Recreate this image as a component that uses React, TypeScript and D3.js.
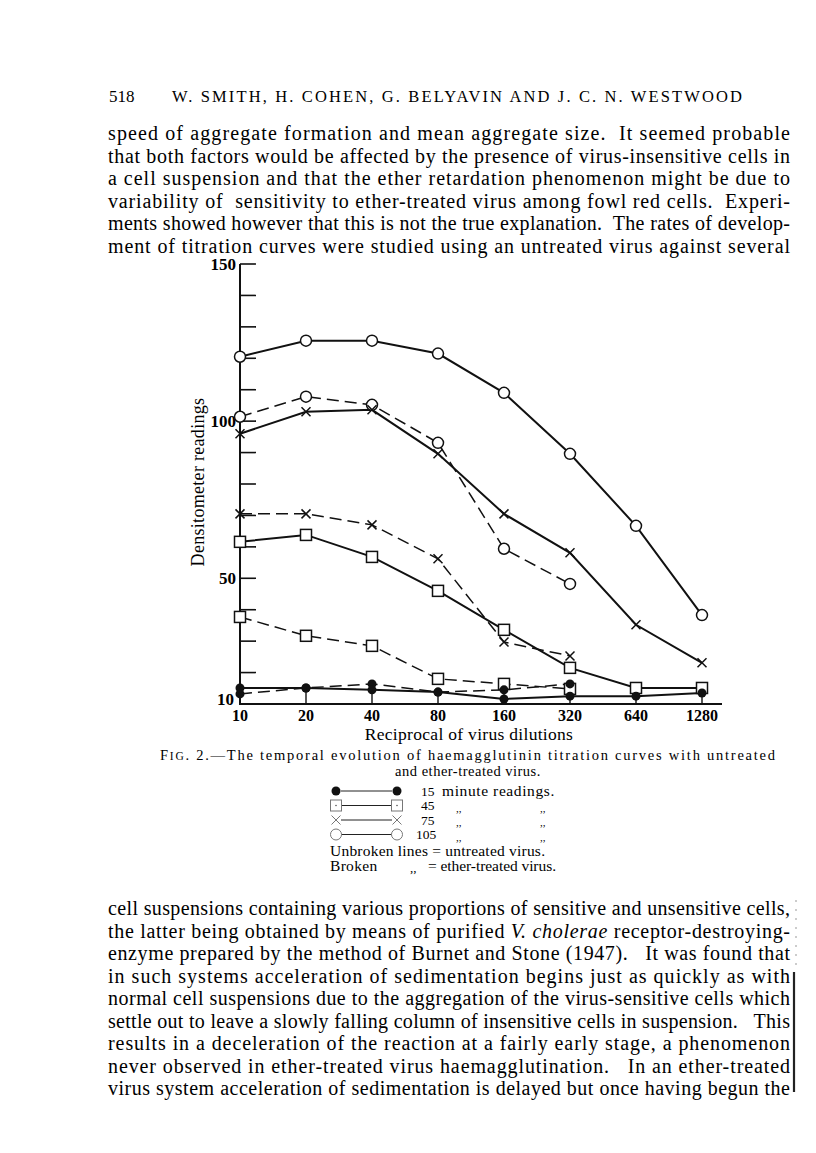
import React, { useEffect, useRef } from "react";
import * as d3 from "d3";

// Values (densitometer readings)
const dilutions = [10, 20, 40, 80, 160, 320, 640, 1280];
const yTickValues = d3.range(10, 151, 10);
const yTickLabels = [10, 50, 100, 150];

const solid15 = [15.1, 15.1, 14.5, 13.8, 11.6, 12.5, 12.5, 13.5];
const broken15 = [13.2, 15.1, 16.4, 13.8, 14.5, 16.4];
const solid45 = [61.6, 63.8, 56.8, 46, 33.6, 21.5, 15.1, 15.1];
const broken45 = [37.7, 31.7, 28.5, 18, 16.4, 14.8];
const solid75 = [96, 103, 103.6, 89.6, 70.5, 58.1, 35.2, 23.1];
const broken75 = [70.5, 70.5, 67, 56.2, 29.7, 25.3];
const solid105 = [120.5, 125.6, 125.6, 121.5, 109, 89.6, 66.7, 38.3];
const broken105 = [101.4, 107.8, 105.2, 93.1, 59.4, 48.2];

const headerNum = "518";
const headerText = "W. SMITH, H. COHEN, G. BELYAVIN AND J. C. N. WESTWOOD";

const topLines = [
  "speed of aggregate formation and mean aggregate size.  It seemed probable",
  "that both factors would be affected by the presence of virus-insensitive cells in",
  "a cell suspension and that the ether retardation phenomenon might be due to",
  "variability of  sensitivity to ether-treated virus among fowl red cells.  Experi-",
  "ments showed however that this is not the true explanation.  The rates of develop-",
  "ment of titration curves were studied using an untreated virus against several",
];

const bottomLines = [
  "cell suspensions containing various proportions of sensitive and unsensitive cells,",
  "the latter being obtained by means of purified |V. cholerae| receptor-destroying-",
  "enzyme prepared by the method of Burnet and Stone (1947).   It was found that",
  "in such systems acceleration of sedimentation begins just as quickly as with",
  "normal cell suspensions due to the aggregation of the virus-sensitive cells which",
  "settle out to leave a slowly falling column of insensitive cells in suspension.   This",
  "results in a deceleration of the reaction at a fairly early stage, a phenomenon",
  "never observed in ether-treated virus haemagglutination.   In an ether-treated",
  "virus system acceleration of sedimentation is delayed but once having begun the",
];

const legendMinutes = ["15", "45", "75", "105"];

const SERIF = "'Liberation Serif', 'DejaVu Serif', serif";

type Marker = "dot" | "square" | "cross" | "circle";

const App = () => {
  const ref = useRef<SVGSVGElement | null>(null);

  useEffect(() => {
    const svg = d3.select(ref.current);
    svg.selectAll("*").remove();

    svg.append("rect").attr("width", 816).attr("height", 1153).attr("fill", "#fff");

    // header
    svg.append("text")
      .attr("x", 109).attr("y", 102)
      .attr("font-family", SERIF).attr("font-size", 17)
      .text(headerNum);
    svg.append("text")
      .attr("x", 172).attr("y", 102)
      .attr("font-family", SERIF).attr("font-size", 16.5)
      .attr("textLength", 570).attr("lengthAdjust", "spacing")
      .text(headerText);

    // body text, justified
    const para = (lines: string[], y0: number) => {
      lines.forEach((line, i) => {
        const t = svg.append("text")
          .attr("x", 108).attr("y", y0 + i * 22.5)
          .attr("font-family", SERIF).attr("font-size", 20)
          .attr("textLength", 682).attr("lengthAdjust", "spacing")
          .attr("xml:space", "preserve");
        line.split("|").forEach((part, j) => {
          t.append("tspan")
            .attr("font-style", j % 2 === 1 ? "italic" : "normal")
            .text(part);
        });
      });
    };
    para(topLines, 140);
    para(bottomLines, 915);

    // chart
    const x = d3.scaleLog().base(2).domain([10, 1280]).range([240, 702]);
    const y = d3.scaleLinear().domain([10, 150]).range([704, 264]);

    const g = svg.append("g");

    // axes
    g.append("line")
      .attr("x1", 240).attr("x2", 240)
      .attr("y1", y(150)).attr("y2", y(10))
      .attr("stroke", "#111").attr("stroke-width", 2);
    g.append("line")
      .attr("x1", 239).attr("x2", 722)
      .attr("y1", y(10)).attr("y2", y(10))
      .attr("stroke", "#111").attr("stroke-width", 2);

    g.selectAll(".ytick")
      .data(yTickValues.filter(v => v > 10))
      .join("line")
      .attr("x1", 240).attr("x2", 256)
      .attr("y1", d => y(d)).attr("y2", d => y(d))
      .attr("stroke", "#111").attr("stroke-width", 1.6);

    g.selectAll(".ylab")
      .data(yTickLabels)
      .join("text")
      .attr("x", d => (d === 10 ? 234 : 236))
      .attr("y", d => (d === 10 ? y(d) + 1 : y(d) + 6))
      .attr("text-anchor", "end")
      .attr("font-family", SERIF).attr("font-size", 17).attr("font-weight", 600)
      .text(d => d);

    g.selectAll(".xtick")
      .data(dilutions.slice(1))
      .join("line")
      .attr("x1", d => x(d)).attr("x2", d => x(d))
      .attr("y1", y(10)).attr("y2", y(10) - 13)
      .attr("stroke", "#111").attr("stroke-width", 1.4);

    g.selectAll(".xlab")
      .data(dilutions)
      .join("text")
      .attr("x", d => x(d)).attr("y", 721)
      .attr("text-anchor", "middle")
      .attr("font-family", SERIF).attr("font-size", 16).attr("font-weight", 600)
      .text(d => d);

    g.append("text")
      .attr("x", 469).attr("y", 740)
      .attr("text-anchor", "middle")
      .attr("font-family", SERIF).attr("font-size", 17.5)
      .attr("letter-spacing", 0.3)
      .text("Reciprocal of virus dilutions");

    g.append("text")
      .attr("transform", "translate(204,482) rotate(-90)")
      .attr("text-anchor", "middle")
      .attr("font-family", SERIF).attr("font-size", 18)
      .attr("letter-spacing", 0.3)
      .text("Densitometer readings");

    // marker drawing
    const drawMarker = (sel: any, kind: Marker, cx: number, cy: number, col = "#111", sw = 1.5) => {
      if (kind === "dot") {
        sel.append("circle").attr("cx", cx).attr("cy", cy).attr("r", 4.5).attr("fill", col);
      } else if (kind === "circle") {
        sel.append("circle").attr("cx", cx).attr("cy", cy).attr("r", 5.5)
          .attr("fill", "#fff").attr("stroke", col).attr("stroke-width", sw);
      } else if (kind === "square") {
        sel.append("rect").attr("x", cx - 5.5).attr("y", cy - 5.5)
          .attr("width", 11).attr("height", 11)
          .attr("fill", "#fff").attr("stroke", col).attr("stroke-width", sw);
      } else {
        const s = 4.5;
        sel.append("path")
          .attr("d", `M${cx - s},${cy - s}L${cx + s},${cy + s}M${cx - s},${cy + s}L${cx + s},${cy - s}`)
          .attr("stroke", col).attr("stroke-width", sw);
      }
    };

    const line = d3.line<number>()
      .x((_, i) => x(dilutions[i]))
      .y(d => y(d));

    const series: { values: number[]; marker: Marker; dashed: boolean }[] = [
      { values: broken45, marker: "square", dashed: true },
      { values: broken75, marker: "cross", dashed: true },
      { values: broken105, marker: "circle", dashed: true },
      { values: broken15, marker: "dot", dashed: true },
      { values: solid45, marker: "square", dashed: false },
      { values: solid75, marker: "cross", dashed: false },
      { values: solid105, marker: "circle", dashed: false },
      { values: solid15, marker: "dot", dashed: false },
    ];

    series.forEach(s => {
      g.append("path")
        .attr("d", line(s.values))
        .attr("fill", "none")
        .attr("stroke", "#111")
        .attr("stroke-width", s.dashed ? 1.5 : 2)
        .attr("stroke-dasharray", s.dashed ? "12,6" : null);
    });
    series.forEach(s => {
      s.values.forEach((v, i) => drawMarker(g, s.marker, x(dilutions[i]), y(v)));
    });

    // caption
    const cap = svg.append("text")
      .attr("x", 160).attr("y", 760)
      .attr("font-family", SERIF).attr("font-size", 14.5)
      .attr("textLength", 615).attr("lengthAdjust", "spacing");
    cap.append("tspan").text("F");
    cap.append("tspan").attr("font-size", 11.5).text("IG");
    cap.append("tspan").text(". 2.—The temporal evolution of haemagglutinin titration curves with untreated");
    svg.append("text")
      .attr("x", 468).attr("y", 776)
      .attr("text-anchor", "middle")
      .attr("font-family", SERIF).attr("font-size", 14.5)
      .attr("letter-spacing", 0.5)
      .text("and ether-treated virus.");

    // legend
    const markers: Marker[] = ["dot", "square", "cross", "circle"];
    const legendY = [791, 805.5, 820, 834.5];
    markers.forEach((m, i) => {
      const ly = legendY[i];
      const col = m === "dot" ? "#111" : "#777";
      svg.append("line")
        .attr("x1", 341).attr("x2", 392)
        .attr("y1", ly).attr("y2", ly)
        .attr("stroke", "#222").attr("stroke-width", 1);
      drawMarker(svg, m, 336, ly, col, 1);
      drawMarker(svg, m, 397, ly, col, 1);
      if (m === "square") {
        [336, 397].forEach(cx => svg.append("circle").attr("cx", cx).attr("cy", ly).attr("r", 0.8).attr("fill", "#555"));
      }
      svg.append("text")
        .attr("x", i === 3 ? 416 : 421).attr("y", ly + 4.5)
        .attr("font-family", SERIF).attr("font-size", 13.5)
        .text(legendMinutes[i]);
      if (i === 0) {
        svg.append("text")
          .attr("x", 442).attr("y", ly + 4.5)
          .attr("font-family", SERIF).attr("font-size", 15.5)
          .attr("letter-spacing", 0.6)
          .text("minute readings.");
      } else {
        [456, 540].forEach(cx => svg.append("text")
          .attr("x", cx).attr("y", ly + 6)
          .attr("font-family", SERIF).attr("font-size", 11)
          .text(",,"));
      }
    });
    svg.append("text")
      .attr("x", 330).attr("y", 856)
      .attr("font-family", SERIF).attr("font-size", 15.5)
      .attr("textLength", 215).attr("lengthAdjust", "spacing")
      .text("Unbroken lines = untreated virus.");
    svg.append("text")
      .attr("x", 330).attr("y", 871)
      .attr("font-family", SERIF).attr("font-size", 15.5)
      .attr("letter-spacing", 0.3)
      .text("Broken");
    svg.append("text")
      .attr("x", 410).attr("y", 872)
      .attr("font-family", SERIF).attr("font-size", 13)
      .text(",,");
    svg.append("text")
      .attr("x", 428).attr("y", 871)
      .attr("font-family", SERIF).attr("font-size", 15.5)
      .attr("textLength", 128).attr("lengthAdjust", "spacing")
      .text("= ether-treated virus.");

    // scanning artefact at right margin
    svg.append("line")
      .attr("x1", 794).attr("x2", 794).attr("y1", 972).attr("y2", 1092)
      .attr("stroke", "#222").attr("stroke-width", 2.2);
    svg.append("line")
      .attr("x1", 796).attr("x2", 796).attr("y1", 900).attr("y2", 972)
      .attr("stroke", "#999").attr("stroke-width", 1).attr("stroke-dasharray", "2,7");
  });

  return (
    <svg ref={ref} width={816} height={1153}
      style={{ position: "absolute", left: 0, top: 0, background: "#fff" }} />
  );
};

export default App;
